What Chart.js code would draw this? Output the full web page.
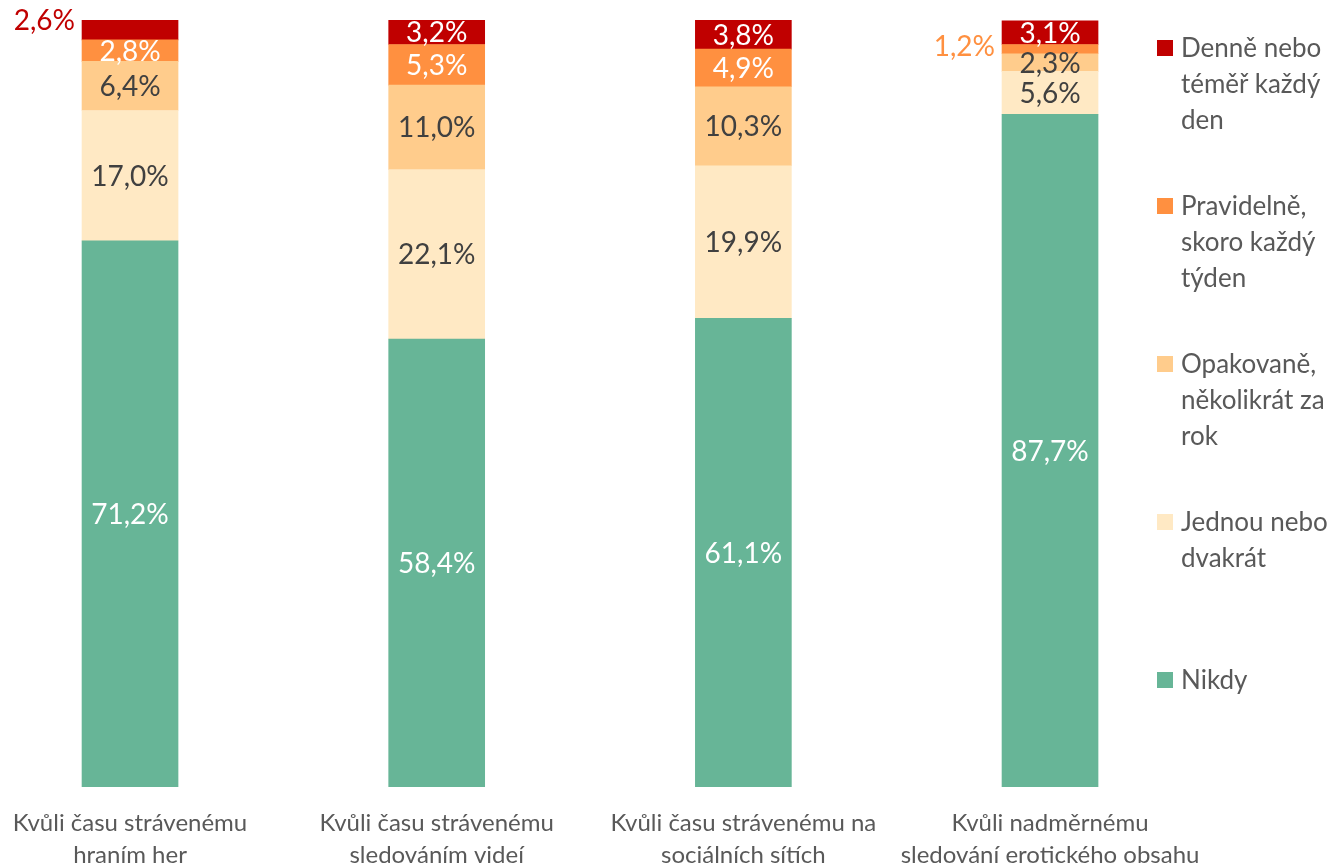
<!DOCTYPE html>
<html>
<head>
<meta charset="utf-8">
<script src="https://cdn.jsdelivr.net/npm/chart.js@4.4.1/dist/chart.umd.min.js"></script>
<style>
    html, body { margin: 0; padding: 0; background: #fff; }
    #wrap { position: relative; width: 1336px; height: 866px; }
    #legend { position: absolute; left: 1157px; top: 0; font-family: Lato, sans-serif; font-size: 26px; color: #595959; }
    .item { position: absolute; left: 0; width: 185px; }
    .item .box { position: absolute; left: 0; top: 11px; width: 16px; height: 16px; }
    .item .txt { position: absolute; left: 24px; top: 0; width: 160px; line-height: 36px; }
</style>
</head>
<body>
<div id="wrap">
    <canvas id="chart" width="1336" height="866"></canvas>
    <div id="legend"></div>
</div>
<script>
var categories = [
    ['Kvůli času strávenému', 'hraním her'],
    ['Kvůli času strávenému', 'sledováním videí'],
    ['Kvůli času strávenému na', 'sociálních sítích'],
    ['Kvůli nadměrnému', 'sledování erotického obsahu']
];
var seriesNames = ['Nikdy', 'Jednou nebo dvakrát', 'Opakovaně, několikrát za rok', 'Pravidelně, skoro každý týden', 'Denně nebo téměř každý den'];
var nikdy      = [71.2, 58.4, 61.1, 87.7];
var jednou     = [17.0, 22.1, 19.9, 5.6];
var opakovane  = [6.4, 11.0, 10.3, 2.3];
var pravidelne = [2.8, 5.3, 4.9, 1.2];
var denne      = [2.6, 3.2, 3.8, 3.1];

var values = [nikdy, jednou, opakovane, pravidelne, denne];
var colors = ['#67b597', '#ffe9c4', '#ffcc8c', '#ff9040', '#c00000'];
var labelColors = ['#ffffff', '#404040', '#404040', '#ffffff', '#ffffff'];

// labels moved out of the bar (to the left), like in the original
var outsideLabels = [{ ds: 4, bar: 0, dy: -9 }, { ds: 3, bar: 3, dy: -2 }];

function fmt(v){ return v.toFixed(1).replace('.', ',') + '%'; }

var segLabels = {
    id: 'segLabels',
    afterDatasetsDraw: function(chart){
        var ctx = chart.ctx;
        ctx.save();
        ctx.font = '28px Lato';
        ctx.textBaseline = 'middle';
        chart.data.datasets.forEach(function(ds, i){
            chart.getDatasetMeta(i).data.forEach(function(bar, j){
                var txt = fmt(values[i][j]);
                var mid = (bar.y + bar.base) / 2;
                var out = outsideLabels.filter(function(o){ return o.ds === i && o.bar === j; })[0];
                if(out){
                    ctx.textAlign = 'right';
                    ctx.fillStyle = colors[i];
                    ctx.fillText(txt, bar.x - bar.width / 2 - 7, mid + out.dy);
                } else {
                    ctx.textAlign = 'center';
                    ctx.fillStyle = labelColors[i];
                    ctx.fillText(txt, bar.x, mid + 1);
                }
            });
        });
        ctx.restore();
    }
};

var datasets = values.map(function(v, i){
    return {
        label: seriesNames[i],
        data: v.map(function(y, j){ return { x: j, y: y }; }),
        backgroundColor: colors[i],
        borderWidth: 0,
        barThickness: 96
    };
});

new Chart(document.getElementById('chart').getContext('2d'), {
    type: 'bar',
    data: { datasets: datasets },
    options: {
        responsive: false,
        animation: false,
        devicePixelRatio: 1,
        layout: { padding: { left: 0, right: 186, top: 20, bottom: 0 } },
        plugins: { legend: { display: false }, tooltip: { enabled: false } },
        scales: {
            x: {
                type: 'linear',
                stacked: true,
                offset: false,
                min: -0.424,
                max: 3.326,
                grid: { display: false, drawTicks: false, offset: false },
                border: { display: false },
                afterBuildTicks: function(s){ s.ticks = [0, 1, 2, 3].map(function(v){ return { value: v }; }); },
                afterFit: function(s){ s.height = 79; s.paddingLeft = 0; s.paddingRight = 0; },
                ticks: {
                    autoSkip: false,
                    maxRotation: 0,
                    padding: 20,
                    color: '#595959',
                    font: { family: 'Lato', size: 24, lineHeight: 1.33 },
                    callback: function(v){ return categories[v]; }
                }
            },
            y: { stacked: true, display: false, min: 0, max: 100 }
        }
    },
    plugins: [segLabels]
});

// legend, top entry = top of the stack
var legend = document.getElementById('legend');
for(var k = 0; k < seriesNames.length; k++){
    var i = seriesNames.length - 1 - k;
    var item = document.createElement('div');
    item.className = 'item';
    item.style.top = (29 + k * 158) + 'px';
    item.innerHTML = '<div class="box" style="background:' + colors[i] + '"></div><div class="txt">' + seriesNames[i] + '</div>';
    legend.appendChild(item);
}
</script>
</body>
</html>
